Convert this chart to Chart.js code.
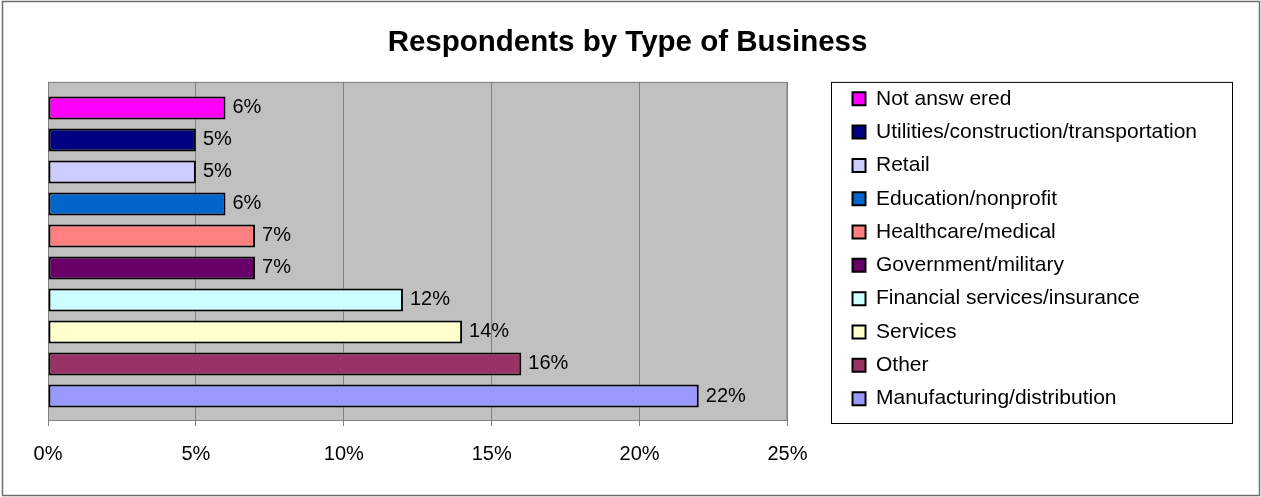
<!DOCTYPE html>
<html>
<head>
<meta charset="utf-8">
<title>Respondents by Type of Business</title>
<script src="https://cdn.jsdelivr.net/npm/chart.js@4.4.1/dist/chart.umd.min.js"></script>
<style>
  html, body { margin: 0; padding: 0; background: #fff; }
  #wrap { width: 1261px; height: 497px; }
</style>
</head>
<body>
<div id="wrap"><canvas id="chart" width="1261" height="497"></canvas></div>
<script>
// categories, top to bottom as they appear on the chart
const categories = [
  'Not answ ered',
  'Utilities/construction/transportation',
  'Retail',
  'Education/nonprofit',
  'Healthcare/medical',
  'Government/military',
  'Financial services/insurance',
  'Services',
  'Other',
  'Manufacturing/distribution'
];
const shares = [6, 5, 5, 6, 7, 7, 12, 14, 16, 22];   // percent of respondents
const barColors = [
  '#FF00FF', '#000080', '#CCCCFF', '#0066CC', '#FF8080',
  '#660066', '#CCFFFF', '#FFFFCC', '#993366', '#9999FF'
];
const xTicks = [0, 5, 10, 15, 20, 25];

const FONT = '"Liberation Sans", Arial, sans-serif';

/** fond gris de la zone de tracé + cadre */
const plotArea = {
  id: 'plotArea',
  beforeDraw(chart) {
    const { ctx, chartArea: a } = chart;
    ctx.save();
    ctx.fillStyle = '#C0C0C0';
    ctx.fillRect(a.left, a.top, a.right - a.left, a.bottom - a.top);
    ctx.restore();
  },
  beforeDatasetsDraw(chart) {
    const { ctx, chartArea: a } = chart;
    ctx.save();
    ctx.strokeStyle = '#808080';
    ctx.lineWidth = 1;
    ctx.strokeRect(a.left + 0.5, a.top + 0.5, a.right - a.left - 1, a.bottom - a.top);
    ctx.restore();
  }
};

/** étiquettes de valeur au bout des barres */
const valueLabels = {
  id: 'valueLabels',
  afterDatasetsDraw(chart) {
    const { ctx } = chart;
    const meta = chart.getDatasetMeta(0);
    ctx.save();
    ctx.font = '20px ' + FONT;
    ctx.fillStyle = '#000';
    ctx.textAlign = 'left';
    ctx.textBaseline = 'middle';
    meta.data.forEach((bar, i) => {
      ctx.fillText(shares[i] + '%', bar.x + 7, bar.y);
    });
    ctx.restore();
  }
};

/** cadre de la légende + bordure du graphique */
const frames = {
  id: 'frames',
  afterDraw(chart) {
    const { ctx, legend, chartArea: a } = chart;
    ctx.save();
    ctx.strokeStyle = '#000';
    ctx.lineWidth = 1;
    const left = Math.round(legend.left - 9) + 0.5;
    ctx.strokeRect(left, a.top + 0.5, 401, a.bottom - a.top + 3);
    ctx.strokeStyle = '#6e6e6e';
    ctx.lineWidth = 1.5;
    ctx.strokeRect(2.5, 1.5, chart.width - 4, chart.height - 3);
    ctx.restore();
  }
};

new Chart(document.getElementById('chart'), {
  type: 'bar',
  data: {
    datasets: [{
      label: 'Respondents',
      data: shares.map((v, i) => ({ x: v, y: i })),
      backgroundColor: barColors,
      borderColor: '#000',
      borderWidth: 2,
      borderSkipped: false,
      barPercentage: 0.72,
      categoryPercentage: 1
    }]
  },
  options: {
    indexAxis: 'y',
    responsive: false,
    animation: false,
    devicePixelRatio: 1,
    layout: { padding: { left: 48, right: 54, top: 15.4, bottom: 15 } },
    plugins: {
      title: {
        display: true,
        text: 'Respondents by Type of Business',
        color: '#000',
        font: { family: FONT, size: 29.5, weight: 'bold' },
        padding: { top: 10.1, bottom: 21 }
      },
      legend: {
        position: 'right',
        align: 'center',
        fullSize: true,
        labels: {
          boxWidth: 13,
          boxHeight: 13,
          padding: 12.33,
          color: '#000',
          font: { family: FONT, size: 21 },
          generateLabels: () => categories.map((c, i) => ({
            text: c,
            fillStyle: barColors[i],
            strokeStyle: '#000',
            lineWidth: 2,
            hidden: false,
            index: i
          }))
        }
      },
      tooltip: { enabled: false }
    },
    scales: {
      x: {
        type: 'linear',
        min: xTicks[0],
        max: xTicks[xTicks.length - 1],
        afterBuildTicks: s => { s.ticks = xTicks.map(v => ({ value: v })); },
        grid: { color: '#808080', lineWidth: 1, tickLength: 6, drawTicks: true },
        border: { display: true, color: '#808080', width: 1 },
        ticks: {
          color: '#000',
          padding: 16,
          maxRotation: 0,
          font: { family: FONT, size: 20 },
          callback: v => v + '%'
        }
      },
      y: {
        type: 'linear',
        reverse: true,
        offset: false,
        min: -0.8125,
        max: 9.75,
        display: false,
        afterBuildTicks: s => { s.ticks = categories.map((c, i) => ({ value: i })); }
      },
      gap: {
        type: 'linear',
        position: 'right',
        display: false,
        afterFit: s => { s.width = 52.7; }
      }
    }
  },
  plugins: [plotArea, valueLabels, frames]
});
</script>
</body>
</html>
